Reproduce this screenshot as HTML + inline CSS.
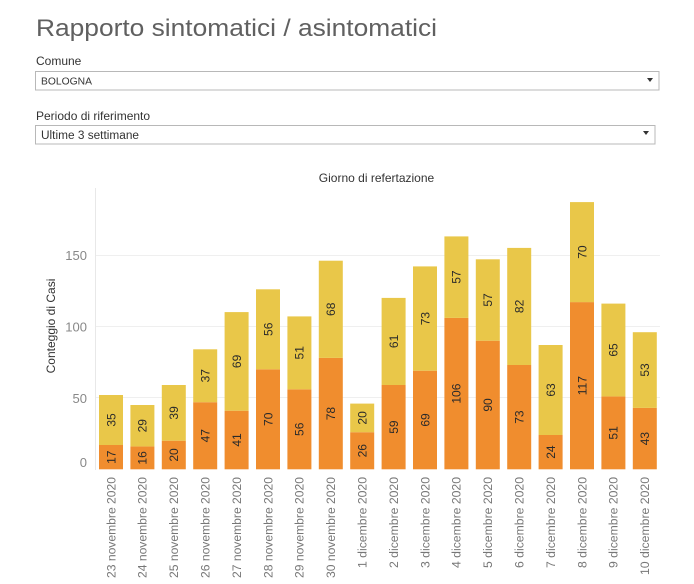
<!DOCTYPE html>
<html><head><meta charset="utf-8"><style>
html,body{margin:0;padding:0;background:#fff;}
svg{display:block;font-family:"Liberation Sans",sans-serif;}
</style></head><body>
<svg width="694" height="584" viewBox="0 0 694 584" xmlns="http://www.w3.org/2000/svg">
<rect width="694" height="584" fill="#fff"/>
<text x="36" y="36" font-size="24" fill="#606060" textLength="401" lengthAdjust="spacingAndGlyphs">Rapporto sintomatici / asintomatici</text>
<text x="36" y="65" font-size="12" fill="#333">Comune</text>
<rect x="35.5" y="71.5" width="623.5" height="18.5" fill="#fff" stroke="#b8b8b8"/>
<text x="41" y="84.5" font-size="10.5" fill="#333" textLength="51" lengthAdjust="spacingAndGlyphs">BOLOGNA</text>
<path d="M647 78 L653 78 L650 82 Z" fill="#333"/>
<text x="36" y="120" font-size="12" fill="#333">Periodo di riferimento</text>
<rect x="35.5" y="125.5" width="619.5" height="18.5" fill="#fff" stroke="#b8b8b8"/>
<text x="41" y="139" font-size="11.5" fill="#333" textLength="98" lengthAdjust="spacingAndGlyphs">Ultime 3 settimane</text>
<path d="M643 131 L649 131 L646 135 Z" fill="#333"/>
<text x="376.5" y="182" font-size="12" fill="#333" text-anchor="middle">Giorno di refertazione</text>
<g stroke="#efefef" stroke-width="1">
<line x1="96" y1="255.5" x2="660" y2="255.5"/>
<line x1="96" y1="326.5" x2="660" y2="326.5"/>
<line x1="96" y1="397.5" x2="660" y2="397.5"/>
</g>
<line x1="95.5" y1="188" x2="95.5" y2="470" stroke="#e8e8e8"/>
<g font-size="13" fill="#888" text-anchor="end">
<text x="87" y="260">150</text>
<text x="87" y="331.5">100</text>
<text x="87" y="403">50</text>
<text x="87" y="467">0</text>
</g>
<text transform="translate(51,326) rotate(-90)" y="4" font-size="12" fill="#333" text-anchor="middle">Conteggio di Casi</text>

<g fill="#F08D2E">
<rect x="99" y="445.0" width="24" height="24.3"/>
<rect x="130.4" y="446.4" width="24" height="22.9"/>
<rect x="161.8" y="440.7" width="24" height="28.6"/>
<rect x="193.2" y="402.2" width="24" height="67.1"/>
<rect x="224.6" y="410.7" width="24" height="58.6"/>
<rect x="256.0" y="369.3" width="24" height="100.0"/>
<rect x="287.4" y="389.3" width="24" height="80.0"/>
<rect x="318.8" y="357.9" width="24" height="111.4"/>
<rect x="350.2" y="432.2" width="24" height="37.1"/>
<rect x="381.6" y="385.0" width="24" height="84.3"/>
<rect x="413.0" y="370.7" width="24" height="98.6"/>
<rect x="444.4" y="317.9" width="24" height="151.4"/>
<rect x="475.8" y="340.7" width="24" height="128.6"/>
<rect x="507.2" y="365.0" width="24" height="104.3"/>
<rect x="538.6" y="435.0" width="24" height="34.3"/>
<rect x="570.0" y="302.1" width="24" height="167.2"/>
<rect x="601.4" y="396.4" width="24" height="72.9"/>
<rect x="632.8" y="407.9" width="24" height="61.4"/>
</g>
<g fill="#E9C749">
<rect x="99" y="395.0" width="24" height="50.0"/>
<rect x="130.4" y="405.0" width="24" height="41.4"/>
<rect x="161.8" y="385.0" width="24" height="55.7"/>
<rect x="193.2" y="349.3" width="24" height="52.9"/>
<rect x="224.6" y="312.1" width="24" height="98.6"/>
<rect x="256.0" y="289.3" width="24" height="80.0"/>
<rect x="287.4" y="316.4" width="24" height="72.9"/>
<rect x="318.8" y="260.7" width="24" height="97.2"/>
<rect x="350.2" y="403.6" width="24" height="28.6"/>
<rect x="381.6" y="297.9" width="24" height="87.1"/>
<rect x="413.0" y="266.4" width="24" height="104.3"/>
<rect x="444.4" y="236.4" width="24" height="81.5"/>
<rect x="475.8" y="259.3" width="24" height="81.4"/>
<rect x="507.2" y="247.9" width="24" height="117.1"/>
<rect x="538.6" y="345.0" width="24" height="90.0"/>
<rect x="570.0" y="202.1" width="24" height="100.0"/>
<rect x="601.4" y="303.6" width="24" height="92.8"/>
<rect x="632.8" y="332.2" width="24" height="75.7"/>
</g>

<g font-size="12" fill="#2a2a2a" text-anchor="middle">
<text transform="translate(111,457.2) rotate(-90)" y="4.3">17</text>
<text transform="translate(111,420.0) rotate(-90)" y="4.3">35</text>
<text transform="translate(142.4,457.9) rotate(-90)" y="4.3">16</text>
<text transform="translate(142.4,425.7) rotate(-90)" y="4.3">29</text>
<text transform="translate(173.8,455.0) rotate(-90)" y="4.3">20</text>
<text transform="translate(173.8,412.9) rotate(-90)" y="4.3">39</text>
<text transform="translate(205.2,435.7) rotate(-90)" y="4.3">47</text>
<text transform="translate(205.2,375.7) rotate(-90)" y="4.3">37</text>
<text transform="translate(236.6,440.0) rotate(-90)" y="4.3">41</text>
<text transform="translate(236.6,361.4) rotate(-90)" y="4.3">69</text>
<text transform="translate(268.0,419.3) rotate(-90)" y="4.3">70</text>
<text transform="translate(268.0,329.3) rotate(-90)" y="4.3">56</text>
<text transform="translate(299.4,429.3) rotate(-90)" y="4.3">56</text>
<text transform="translate(299.4,352.8) rotate(-90)" y="4.3">51</text>
<text transform="translate(330.8,413.6) rotate(-90)" y="4.3">78</text>
<text transform="translate(330.8,309.3) rotate(-90)" y="4.3">68</text>
<text transform="translate(362.2,450.7) rotate(-90)" y="4.3">26</text>
<text transform="translate(362.2,417.9) rotate(-90)" y="4.3">20</text>
<text transform="translate(393.6,427.1) rotate(-90)" y="4.3">59</text>
<text transform="translate(393.6,341.4) rotate(-90)" y="4.3">61</text>
<text transform="translate(425.0,420.0) rotate(-90)" y="4.3">69</text>
<text transform="translate(425.0,318.6) rotate(-90)" y="4.3">73</text>
<text transform="translate(456.4,393.6) rotate(-90)" y="4.3">106</text>
<text transform="translate(456.4,277.1) rotate(-90)" y="4.3">57</text>
<text transform="translate(487.8,405.0) rotate(-90)" y="4.3">90</text>
<text transform="translate(487.8,300.0) rotate(-90)" y="4.3">57</text>
<text transform="translate(519.2,417.1) rotate(-90)" y="4.3">73</text>
<text transform="translate(519.2,306.4) rotate(-90)" y="4.3">82</text>
<text transform="translate(550.6,452.1) rotate(-90)" y="4.3">24</text>
<text transform="translate(550.6,390.0) rotate(-90)" y="4.3">63</text>
<text transform="translate(582.0,385.7) rotate(-90)" y="4.3">117</text>
<text transform="translate(582.0,252.1) rotate(-90)" y="4.3">70</text>
<text transform="translate(613.4,432.9) rotate(-90)" y="4.3">51</text>
<text transform="translate(613.4,350.0) rotate(-90)" y="4.3">65</text>
<text transform="translate(644.8,438.6) rotate(-90)" y="4.3">43</text>
<text transform="translate(644.8,370.0) rotate(-90)" y="4.3">53</text>
</g>

<g font-size="11.5" fill="#777" text-anchor="end">
<text transform="translate(111,477) rotate(-90)" y="4.3" textLength="101" lengthAdjust="spacingAndGlyphs">23 novembre 2020</text>
<text transform="translate(142.4,477) rotate(-90)" y="4.3" textLength="101" lengthAdjust="spacingAndGlyphs">24 novembre 2020</text>
<text transform="translate(173.8,477) rotate(-90)" y="4.3" textLength="101" lengthAdjust="spacingAndGlyphs">25 novembre 2020</text>
<text transform="translate(205.2,477) rotate(-90)" y="4.3" textLength="101" lengthAdjust="spacingAndGlyphs">26 novembre 2020</text>
<text transform="translate(236.6,477) rotate(-90)" y="4.3" textLength="101" lengthAdjust="spacingAndGlyphs">27 novembre 2020</text>
<text transform="translate(268.0,477) rotate(-90)" y="4.3" textLength="101" lengthAdjust="spacingAndGlyphs">28 novembre 2020</text>
<text transform="translate(299.4,477) rotate(-90)" y="4.3" textLength="101" lengthAdjust="spacingAndGlyphs">29 novembre 2020</text>
<text transform="translate(330.8,477) rotate(-90)" y="4.3" textLength="101" lengthAdjust="spacingAndGlyphs">30 novembre 2020</text>
<text transform="translate(362.2,477) rotate(-90)" y="4.3" textLength="91" lengthAdjust="spacingAndGlyphs">1 dicembre 2020</text>
<text transform="translate(393.6,477) rotate(-90)" y="4.3" textLength="91" lengthAdjust="spacingAndGlyphs">2 dicembre 2020</text>
<text transform="translate(425.0,477) rotate(-90)" y="4.3" textLength="91" lengthAdjust="spacingAndGlyphs">3 dicembre 2020</text>
<text transform="translate(456.4,477) rotate(-90)" y="4.3" textLength="91" lengthAdjust="spacingAndGlyphs">4 dicembre 2020</text>
<text transform="translate(487.8,477) rotate(-90)" y="4.3" textLength="91" lengthAdjust="spacingAndGlyphs">5 dicembre 2020</text>
<text transform="translate(519.2,477) rotate(-90)" y="4.3" textLength="91" lengthAdjust="spacingAndGlyphs">6 dicembre 2020</text>
<text transform="translate(550.6,477) rotate(-90)" y="4.3" textLength="91" lengthAdjust="spacingAndGlyphs">7 dicembre 2020</text>
<text transform="translate(582.0,477) rotate(-90)" y="4.3" textLength="91" lengthAdjust="spacingAndGlyphs">8 dicembre 2020</text>
<text transform="translate(613.4,477) rotate(-90)" y="4.3" textLength="91" lengthAdjust="spacingAndGlyphs">9 dicembre 2020</text>
<text transform="translate(644.8,477) rotate(-90)" y="4.3" textLength="98" lengthAdjust="spacingAndGlyphs">10 dicembre 2020</text>
</g>
</svg>
</body></html>
